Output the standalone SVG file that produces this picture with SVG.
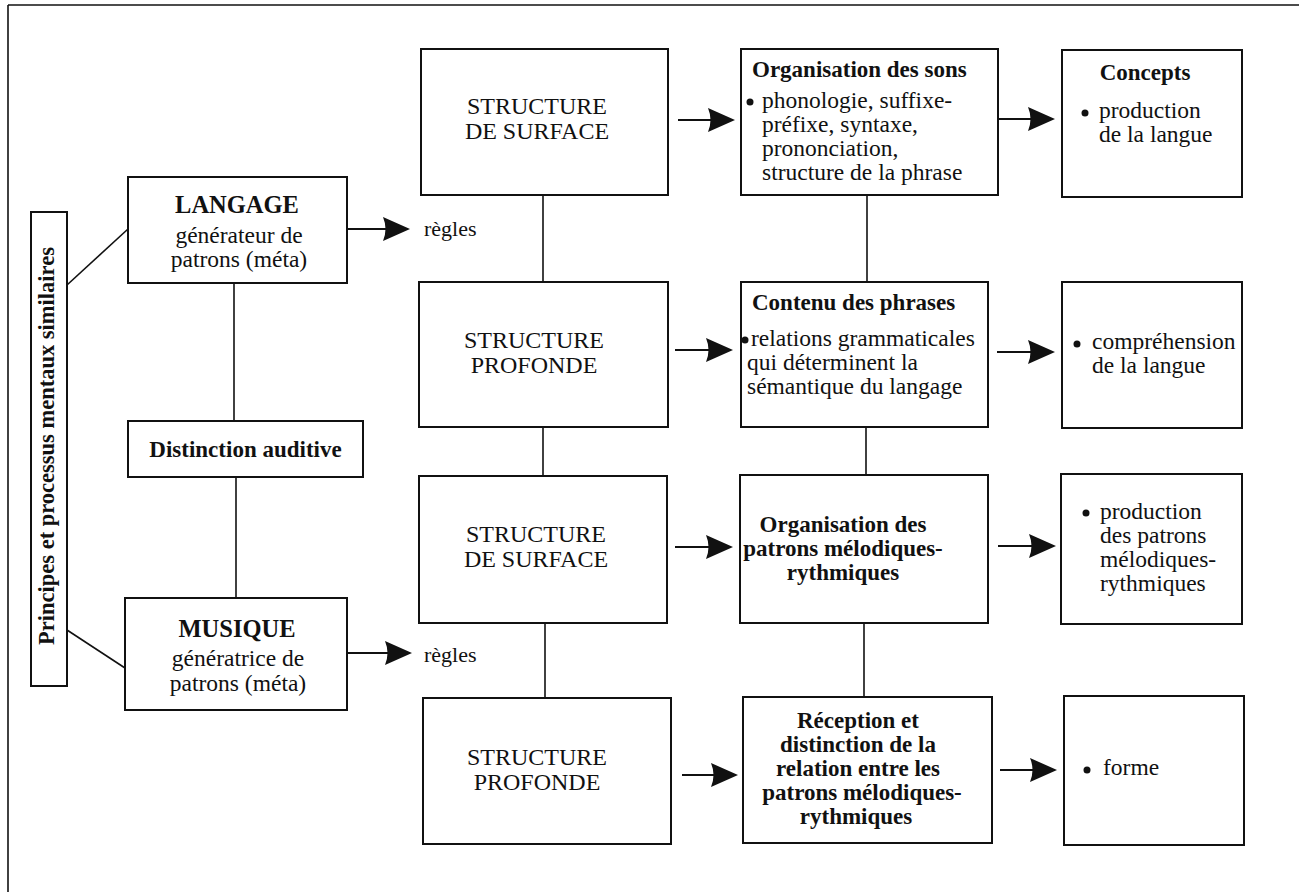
<svg xmlns="http://www.w3.org/2000/svg" width="1299" height="892" viewBox="0 0 1299 892">
<style>
  .box { fill: #fff; stroke: #111; stroke-width: 2; }
  .ln { stroke: #111; stroke-width: 1.6; fill: none; }
  .arr { stroke: #111; stroke-width: 2.2; fill: none; marker-end: url(#head); }
  text { font-family: "Liberation Serif", "Times New Roman", serif; fill: #111; }
  .r { font-size: 23.5px; }
  .b { font-size: 23px; font-weight: bold; }
  .cap { font-size: 24px; }
  .big { font-size: 24.5px; font-weight: bold; }
  .mid { text-anchor: middle; }
  .dot { fill: #111; }
</style>
<defs>
  <marker id="head" markerUnits="userSpaceOnUse" markerWidth="28" markerHeight="26" viewBox="0 0 28 26" refX="22" refY="13" orient="auto">
    <path d="M0,1 L27,13 L0,25 Q5,13 0,1 Z" fill="#111"/>
  </marker>
</defs>
<rect width="1299" height="892" fill="#fff"/>
<g id="frame">
  <line class="ln" x1="8" y1="5" x2="1299" y2="5" stroke-width="2"/>
  <line class="ln" x1="8" y1="5" x2="8" y2="892" stroke-width="2"/>
</g>
<g id="connectors">
  <line class="ln" x1="67" y1="285" x2="128" y2="229"/>
  <line class="ln" x1="67" y1="630" x2="125" y2="668"/>
  <line class="ln" x1="234" y1="283" x2="234" y2="421"/>
  <line class="ln" x1="236" y1="477" x2="236" y2="598"/>
  <line class="ln" x1="543" y1="195" x2="543" y2="282"/>
  <line class="ln" x1="543" y1="427" x2="543" y2="476"/>
  <line class="ln" x1="545" y1="623" x2="545" y2="698"/>
  <line class="ln" x1="867" y1="195" x2="867" y2="282"/>
  <line class="ln" x1="866" y1="427" x2="866" y2="475"/>
  <line class="ln" x1="864" y1="623" x2="864" y2="697"/>
  <line class="arr" x1="347" y1="229" x2="405" y2="229"/>
  <line class="arr" x1="347" y1="653" x2="407" y2="653"/>
  <line class="arr" x1="678" y1="120" x2="730" y2="120"/>
  <line class="arr" x1="675" y1="350" x2="728" y2="350"/>
  <line class="arr" x1="675" y1="547" x2="728" y2="547"/>
  <line class="arr" x1="682" y1="775" x2="733" y2="775"/>
  <line class="arr" x1="998" y1="119" x2="1050" y2="119"/>
  <line class="arr" x1="997" y1="352" x2="1050" y2="352"/>
  <line class="arr" x1="998" y1="546" x2="1051" y2="546"/>
  <line class="arr" x1="1000" y1="770" x2="1052" y2="770"/>
  <text class="r" x="424" y="236" style="font-size:22px">règles</text>
  <text class="r" x="424" y="662" style="font-size:22px">règles</text>
</g>
<g id="principes">
  <rect class="box" x="31" y="212" width="36" height="474"/>
  <text class="mid" transform="translate(54,446) rotate(-90)" style="font-size:22.5px;font-weight:bold">Principes et processus mentaux similaires</text>
</g>
<g id="langage">
  <rect class="box" x="128" y="177" width="219" height="106"/>
  <text class="big mid" x="237" y="213">LANGAGE</text>
  <text class="r mid" x="239" y="243">générateur de</text>
  <text class="r mid" x="239" y="267">patrons (méta)</text>
</g>
<g id="distinction">
  <rect class="box" x="128" y="421" width="235" height="56"/>
  <text class="b mid" x="245.5" y="457">Distinction auditive</text>
</g>
<g id="musique">
  <rect class="box" x="125" y="598" width="222" height="112"/>
  <text class="big mid" x="237" y="637">MUSIQUE</text>
  <text class="r mid" x="238" y="666">génératrice de</text>
  <text class="r mid" x="238" y="691">patrons (méta)</text>
</g>
<g id="surface1">
  <rect class="box" x="421" y="49" width="247" height="146"/>
  <text class="cap mid" x="537" y="114">STRUCTURE</text>
  <text class="cap mid" x="537" y="139">DE SURFACE</text>
</g>
<g id="profonde1">
  <rect class="box" x="419" y="282" width="249" height="145"/>
  <text class="cap mid" x="534" y="348">STRUCTURE</text>
  <text class="cap mid" x="534" y="373">PROFONDE</text>
</g>
<g id="surface2">
  <rect class="box" x="419" y="476" width="248" height="147"/>
  <text class="cap mid" x="536" y="542">STRUCTURE</text>
  <text class="cap mid" x="536" y="567">DE SURFACE</text>
</g>
<g id="profonde2">
  <rect class="box" x="423" y="698" width="248" height="146"/>
  <text class="cap mid" x="537" y="765">STRUCTURE</text>
  <text class="cap mid" x="537" y="790">PROFONDE</text>
</g>
<g id="sons">
  <rect class="box" x="741" y="49" width="257" height="146"/>
  <text class="b" x="752" y="77">Organisation des sons</text>
  <circle class="dot" cx="750" cy="102" r="3.5"/>
  <text class="r" x="762" y="108">phonologie, suffixe-</text>
  <text class="r" x="762" y="132">préfixe, syntaxe,</text>
  <text class="r" x="762" y="156">prononciation,</text>
  <text class="r" x="762" y="180">structure de la phrase</text>
</g>
<g id="contenu">
  <rect class="box" x="741" y="282" width="247" height="145"/>
  <text class="b" x="752" y="310">Contenu des phrases</text>
  <circle class="dot" cx="745" cy="340" r="3.5"/>
  <text class="r" x="751" y="346">relations grammaticales</text>
  <text class="r" x="747" y="370">qui déterminent la</text>
  <text class="r" x="747" y="394">sémantique du langage</text>
</g>
<g id="patrons">
  <rect class="box" x="740" y="475" width="248" height="148"/>
  <text class="b mid" x="843" y="532">Organisation des</text>
  <text class="b mid" x="843" y="556">patrons mélodiques-</text>
  <text class="b mid" x="843" y="580">rythmiques</text>
</g>
<g id="reception">
  <rect class="box" x="743" y="697" width="249" height="146"/>
  <text class="b mid" x="858" y="728">Réception et</text>
  <text class="b mid" x="858" y="752">distinction de la</text>
  <text class="b mid" x="858" y="776">relation entre les</text>
  <text class="b mid" x="862" y="800">patrons mélodiques-</text>
  <text class="b mid" x="856" y="824">rythmiques</text>
</g>
<g id="concepts">
  <rect class="box" x="1062" y="50" width="180" height="147"/>
  <text class="b mid" x="1145" y="80">Concepts</text>
  <circle class="dot" cx="1085" cy="113" r="3.5"/>
  <text class="r" x="1099" y="118">production</text>
  <text class="r" x="1099" y="142">de la langue</text>
</g>
<g id="comprehension">
  <rect class="box" x="1062" y="282" width="180" height="146"/>
  <circle class="dot" cx="1077" cy="344" r="3.5"/>
  <text class="r" x="1092" y="349">compréhension</text>
  <text class="r" x="1092" y="373">de la langue</text>
</g>
<g id="production">
  <rect class="box" x="1061" y="474" width="181" height="150"/>
  <circle class="dot" cx="1086" cy="513" r="3.5"/>
  <text class="r" x="1100" y="519">production</text>
  <text class="r" x="1100" y="543">des patrons</text>
  <text class="r" x="1100" y="567">mélodiques-</text>
  <text class="r" x="1100" y="591">rythmiques</text>
</g>
<g id="forme">
  <rect class="box" x="1064" y="696" width="180" height="149"/>
  <circle class="dot" cx="1087" cy="770" r="3.5"/>
  <text class="r" x="1103" y="775">forme</text>
</g>
</svg>
